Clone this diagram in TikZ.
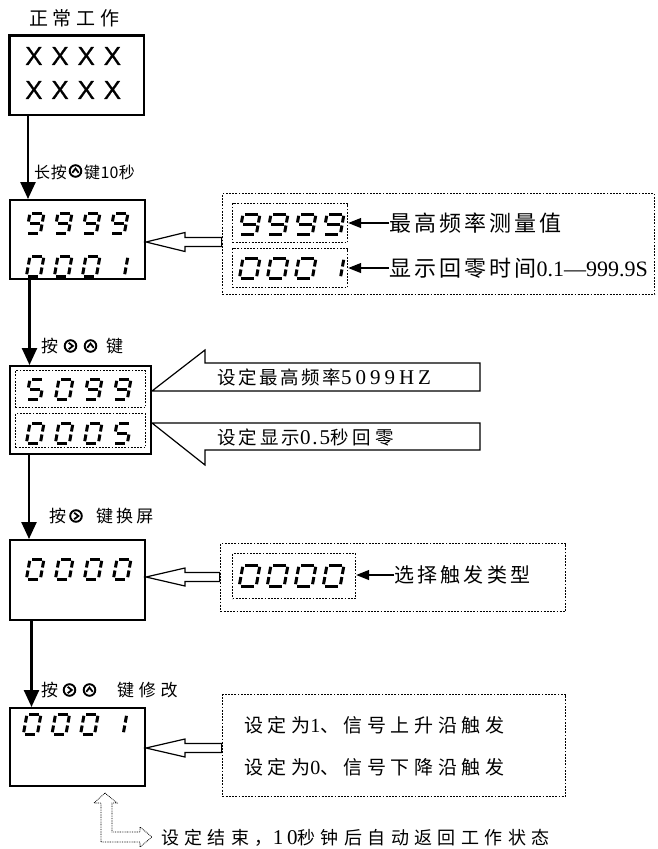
\documentclass[tikz,border=0pt]{standalone}
\usepackage{fontspec}
\setmainfont{Liberation Serif}
\newfontfamily\cjk{Noto Sans CJK SC}
\newfontfamily\latf{Liberation Serif}
\newfontfamily\sansf{Liberation Sans}
\usetikzlibrary{arrows.meta,calc}

\newcommand\cjkT[3]{{\fontsize{#1}{#1}\selectfont\cjk\addfontfeature{LetterSpace=#2}#3}}
\newcommand\latT[3]{{\fontsize{#1}{#1}\selectfont\latf\addfontfeature{LetterSpace=#2}#3}}

% seven-segment digits
\newcommand\segW{14}
\newcommand\segH{20}
\newcommand\SgA{\draw[seg] (2,0)--(\segW-2,0);}
\newcommand\SgB{\draw[seg] (\segW,1.8)--(\segW,\segH/2-1.5);}
\newcommand\SgC{\draw[seg] (\segW,\segH/2+1.5)--(\segW,\segH-1.8);}
\newcommand\SgD{\draw[seg] (2,\segH)--(\segW-2,\segH);}
\newcommand\SgE{\draw[seg] (0,\segH/2+1.5)--(0,\segH-1.8);}
\newcommand\SgF{\draw[seg] (0,1.8)--(0,\segH/2-1.5);}
\newcommand\SgG{\draw[seg] (2,\segH/2)--(\segW-2,\segH/2);}
\newcommand\dgZero{\SgA\SgB\SgC\SgD\SgE\SgF}
\newcommand\dgNine{\SgA\SgB\SgC\SgD\SgF\SgG}
\newcommand\dgOne{\SgB\SgC}
\newcommand\dgFive{\SgA\SgC\SgD\SgF\SgG}
\newcommand\sdig[3]{\begin{scope}[shift={(#1,#2)},xslant=0.18]#3\end{scope}}
\newcommand\segrow[4]{\foreach \dd [count=\ii from 0] in {#4} {\sdig{#1+\ii*#3}{#2}{\dd}}}

\begin{document}
\begin{tikzpicture}[x=1pt,y=-1pt,
  box/.style={draw,line width=2.4pt,inner sep=0pt},
  dotbox/.style={draw,line width=1.8pt,dash pattern=on 1.8pt off 1.4pt,inner sep=0pt},
  seg/.style={line width=3pt},
  flow/.style={line width=2.5pt,-{Triangle[width=15pt,length=17pt]}},
  hollow/.style={draw,line width=1.2pt,fill=white,line join=miter},
  small/.style={line width=1.3pt,-{Triangle[width=10pt,length=13pt]}},
  lret/.style={draw,line width=0.8pt,dash pattern=on 0.8pt off 0.9pt},
  txt/.style={inner sep=0pt,anchor=west},
  iconR/.pic={\draw[line width=1.9pt] (0,0) circle (5.8);
              \draw[line width=1.8pt,line join=miter] (-1.8,-3.2)--(2.4,0)--(-1.8,3.2);},
  iconU/.pic={\draw[line width=1.9pt] (0,0) circle (5.8);
              \draw[line width=1.8pt,line join=miter] (-3.2,1.8)--(0,-2.4)--(3.2,1.8);},
]
\useasboundingbox (0,0) rectangle (657,849);

% ---------- main boxes ----------
\node[box,minimum width=134.4pt,minimum height=79.4pt] (b1) at (76.5,75) {};
\node[box,minimum width=134.6pt,minimum height=78.6pt] (b2) at (77.5,239.5) {};
\node[box,minimum width=140.6pt,minimum height=87.6pt] (b3) at (80.5,410) {};
\node[box,minimum width=134.6pt,minimum height=79.6pt] (b4) at (77.5,580) {};
\node[box,minimum width=134.6pt,minimum height=77.6pt] (b5) at (77.5,747) {};

% title and box 1 text
\node[txt] (title) at (29,18) {\cjkT{19}{25}{正常工作}};
\node[txt] (x1) at (25,56) {\fontsize{26}{26}\selectfont\sansf\addfontfeature{LetterSpace=34,FakeBold=0.6}XXXX};
\node[txt] (x2) at (25,90) {\fontsize{26}{26}\selectfont\sansf\addfontfeature{LetterSpace=34,FakeBold=0.6}XXXX};

% box 2 digits
\segrow{30}{213}{28}{\dgNine,\dgNine,\dgNine,\dgNine}
\segrow{30}{256}{28}{\dgZero,\dgZero,\dgZero,\dgOne}

% box 3
\node[dotbox,line width=1.4pt,minimum width=130pt,minimum height=37pt] (in3a) at (80.5,389) {};
\node[dotbox,line width=1.4pt,minimum width=130pt,minimum height=34pt] (in3b) at (80.5,430.5) {};
\segrow{30}{379}{29}{\dgFive,\dgZero,\dgNine,\dgNine}
\segrow{30}{423}{29}{\dgZero,\dgZero,\dgZero,\dgFive}

% box 4
\segrow{30}{559}{29}{\dgZero,\dgZero,\dgZero,\dgZero}

% box 5
\segrow{27}{714}{28.6}{\dgZero,\dgZero,\dgZero,\dgOne}

% ---------- flow arrows ----------
\coordinate (a1) at (28,0);
\coordinate (a2) at (29.5,0);
\coordinate (a3) at (29,0);
\coordinate (a4) at (31.5,0);
\draw[flow] (a1 |- b1.south) -- (a1 |- b2.north);
\draw[flow] (a2 |- b2.south) -- (a2 |- b3.north);
\draw[flow] (a3 |- b3.south) -- (a3 |- b4.north);
\draw[flow] (a4 |- b4.south) -- (a4 |- b5.north);

% labels
\node[txt] (l1a) at (34,172) {\cjkT{16}{4}{长按}};
\pic at (75.5,171) {iconU};
\node[txt] (l1b) at (84,172) {\cjkT{16}{2}{键10秒}};

\node[txt] (l2a) at (41,346) {\cjkT{17}{0}{按}};
\pic at (70.5,346) {iconR};
\pic at (90.5,346) {iconU};
\node[txt] (l2b) at (106,346) {\cjkT{17}{0}{键}};

\node[txt] (l3a) at (49,516) {\cjkT{17}{0}{按}};
\pic at (76,516) {iconR};
\node[txt] (l3b) at (96,516) {\cjkT{17}{18}{键换屏}};

\node[txt] (l4a) at (41,690) {\cjkT{17}{0}{按}};
\pic at (69.5,690) {iconR};
\pic at (89.5,690) {iconU};
\node[txt] (l4b) at (117,690) {\cjkT{17}{28}{键修改}};

% ---------- info box for box 2 ----------
\node[dotbox,minimum width=432pt,minimum height=101pt] (i2) at (438.5,244) {};
\node[dotbox,line width=1.4pt,minimum width=115pt,minimum height=39pt] (in2a) at (290,223) {};
\node[dotbox,line width=1.4pt,minimum width=115pt,minimum height=39pt] (in2b) at (290,268) {};
\renewcommand\segW{17}
\segrow{243}{214}{28}{\dgNine,\dgNine,\dgNine,\dgNine}
\segrow{243}{258}{28}{\dgZero,\dgZero,\dgZero,\dgOne}
\node[txt] (m1) at (389,223) {\cjkT{22}{14}{最高频率测量值}};
\node[txt] (m2) at (389,268) {\cjkT{22}{14}{显示回零时间}\latT{22}{0}{0.1—999.9S}};
\draw[small] (m1.west) -- (in2a.east |- m1.west);
\draw[small] (m2.west) -- (in2b.east |- m2.west);
\coordinate (t2) at (b2.east |- 0,242);
\draw[hollow] (t2) -- ++(39,-9.5) -- ++(0,5) -- ($(i2.west |- t2)+(0,-4.5)$)
  -- ($(i2.west |- t2)+(0,4.5)$) -- ($(t2)+(39,4.5)$) -- ($(t2)+(39,9.5)$) -- cycle;

% ---------- callouts for box 3 ----------
\coordinate (t3a) at (b3.east |- 0,391);
\coordinate (t3b) at (b3.east |- 0,423);
\draw[hollow] (t3a) -- (205,350) -- (205,363) -- (480,363) -- (480,391) -- cycle;
\draw[hollow] (t3b) -- (480,423) -- (480,450) -- (205,450) -- (205,465) -- cycle;
\node[txt] (m3) at (217,377) {\cjkT{18.5}{14}{设定最高频率}\latT{21}{19}{5099HZ}};
\node[txt] (m4) at (217,437) {\cjkT{18.5}{16}{设定显示}\latT{21}{9}{0.5}\cjkT{18.5}{22}{秒回零}};

% ---------- info box for box 4 ----------
\node[dotbox,minimum width=345pt,minimum height=68pt] (i4) at (393,577.5) {};
\node[dotbox,line width=1.4pt,minimum width=123pt,minimum height=45pt] (in4) at (294,576) {};
\renewcommand\segH{21}
\segrow{243}{565}{28}{\dgZero,\dgZero,\dgZero,\dgZero}
\node[txt] (m5) at (394,575) {\cjkT{20}{16}{选择触发类型}};
\draw[small] (m5.west) -- (in4.east |- m5.west);
\coordinate (t4) at (b4.east |- 0,577);
\draw[hollow] (t4) -- ++(39,-9) -- ++(0,4.5) -- ($(i4.west |- t4)+(0,-4.5)$)
  -- ($(i4.west |- t4)+(0,4.5)$) -- ($(t4)+(39,4.5)$) -- ($(t4)+(39,9)$) -- cycle;

% ---------- info box for box 5 ----------
\node[dotbox,minimum width=343pt,minimum height=102pt] (i5) at (394,745.5) {};
\node[txt] (m6) at (244,725) {\cjkT{19}{24}{设定为}\latT{20}{0}{1}\cjkT{19}{24}{、信号上升沿触发}};
\node[txt] (m7) at (244,767) {\cjkT{19}{24}{设定为}\latT{20}{0}{0}\cjkT{19}{24}{、信号下降沿触发}};
\coordinate (t5) at (b5.east |- 0,748);
\draw[hollow] (t5) -- ++(39,-9) -- ++(0,4.5) -- ($(i5.west |- t5)+(0,-4.5)$)
  -- ($(i5.west |- t5)+(0,4.5)$) -- ($(t5)+(39,4.5)$) -- ($(t5)+(39,9)$) -- cycle;

% ---------- return arrow ----------
\draw[lret] (105,793) -- (117,803) -- (112,803) -- (112,832) -- (140,832) -- (140,827)
  -- (152,837) -- (140,847) -- (140,842) -- (101,842) -- (101,803) -- (94,803) -- cycle;
\node[txt] (m8) at (161,838) {\cjkT{18}{30}{设定结束，}\latT{21}{18}{10}\cjkT{18}{30}{秒钟后自动返回工作状态}};
\end{tikzpicture}
\end{document}
